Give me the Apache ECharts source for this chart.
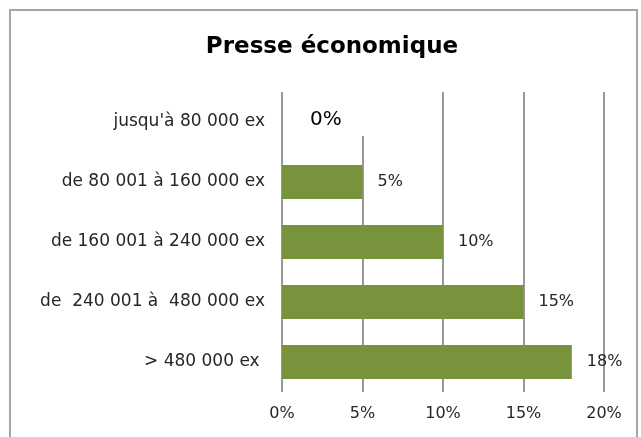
<!DOCTYPE html>
<html>
<head>
<meta charset="utf-8">
<script src="https://cdn.jsdelivr.net/npm/echarts@6/dist/echarts.min.js"></script>
<style>
  html, body { margin: 0; padding: 0; background: #fff; }
  #main { width: 641px; height: 437px; }
</style>
</head>
<body>
<div id="main"></div>
<script>
var categories = ["jusqu'à 80 000 ex", 'de 80 001 à 160 000 ex', 'de 160 001 à 240 000 ex', 'de  240 001 à  480 000 ex', '> 480 000 ex '];
var values = [0, 5, 10, 15, 18];
var xTicks = [0, 5, 10, 15, 20];

var police = 'DejaVu Sans';
var myChart = echarts.init(document.getElementById('main'));

myChart.setOption({
    animation: false,
    title: {
        text: 'Presse économique',
        top: 31,
        left: 327,
        textAlign: 'center',
        textStyle: { fontFamily: police, fontSize: 23, fontWeight: 'bold', color: '#000' }
    },
    // cadre gris autour du graphique
    graphic: [{
        type: 'rect',
        shape: { x: 10, y: 10, width: 627, height: 460 },
        style: { fill: 'none', stroke: '#a6a6a6', lineWidth: 2 },
        silent: true
    }],
    grid: { left: 282, right: 37, top: 92, bottom: 45 },
    xAxis: {
        type: 'value',
        min: xTicks[0],
        max: xTicks[xTicks.length - 1],
        interval: 5,
        axisLine: { show: false },
        axisTick: { show: false },
        axisLabel: { formatter: '{value}%', margin: 14, color: '#262626', fontFamily: police, fontSize: 16 },
        splitLine: { lineStyle: { color: '#999', width: 2 } }
    },
    yAxis: {
        type: 'category',
        inverse: true,
        data: categories,
        axisLine: { show: false },
        axisTick: { show: false },
        axisLabel: { margin: 17, color: '#262626', fontFamily: police, fontSize: 17 }
    },
    series: [{
        type: 'bar',
        barWidth: 34,
        itemStyle: { color: '#77933c' },
        label: {
            show: true,
            position: 'right',
            distance: 15,
            color: '#262626',
            fontFamily: police,
            fontSize: 16,
            formatter: '{c}%'
        },
        data: values.map(function (v) {
            if (v === 0) {
                // le libellé 0% masque le haut de la ligne 5%
                return {
                    value: v,
                    label: {
                        distance: 18,
                        formatter: '{v|{c}%}',
                        backgroundColor: '#fff',
                        padding: [18, 30, 6, 10],
                        offset: [0, -13],
                        rich: {
                            v: { fontFamily: police, fontSize: 20, color: '#000', padding: [10, 0, 0, 0] }
                        }
                    }
                };
            }
            return v;
        })
    }]
});
</script>
</body>
</html>
